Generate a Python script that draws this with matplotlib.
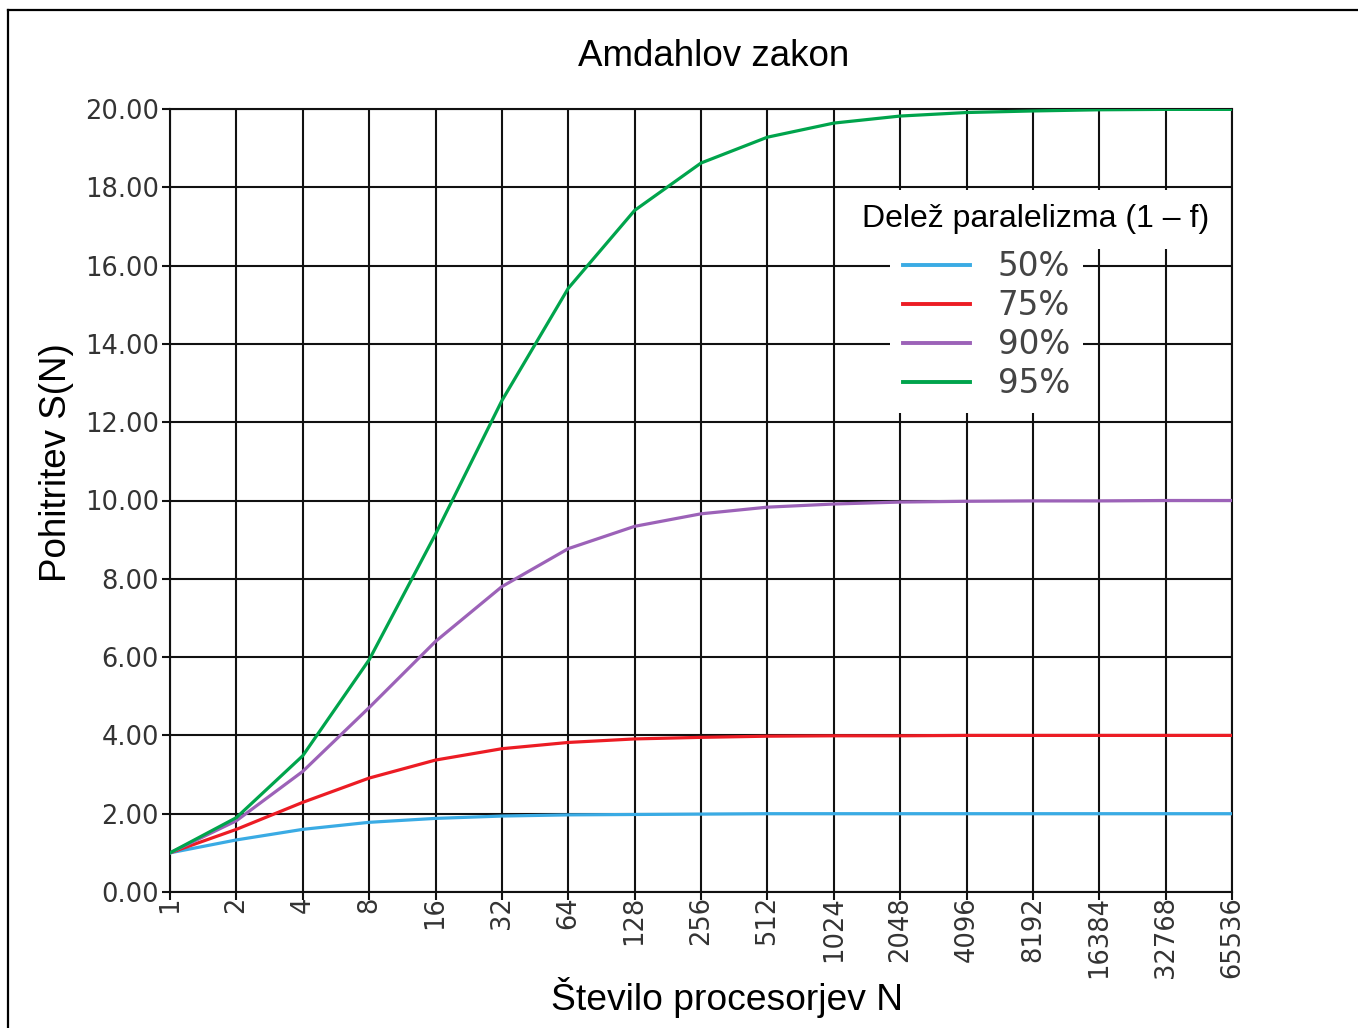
import matplotlib.pyplot as plt
from matplotlib.lines import Line2D

plt.rcParams['font.family'] = 'DejaVu Sans'

# ===== data
n_labels = ['1', '2', '4', '8', '16', '32', '64', '128', '256', '512', '1024',
            '2048', '4096', '8192', '16384', '32768', '65536']

s_50 = [1.00, 1.33, 1.60, 1.78, 1.88, 1.94, 1.97, 1.98, 1.99, 2.00, 2.00,
        2.00, 2.00, 2.00, 2.00, 2.00, 2.00]
s_75 = [1.00, 1.60, 2.29, 2.91, 3.37, 3.66, 3.82, 3.91, 3.95, 3.98, 3.99,
        3.99, 4.00, 4.00, 4.00, 4.00, 4.00]
s_90 = [1.00, 1.82, 3.08, 4.71, 6.40, 7.80, 8.77, 9.34, 9.66, 9.83, 9.91,
        9.96, 9.98, 9.99, 9.99, 10.00, 10.00]
s_95 = [1.00, 1.90, 3.48, 5.93, 9.14, 12.55, 15.42, 17.41, 18.62, 19.28,
        19.64, 19.82, 19.91, 19.95, 19.98, 19.99, 19.99]

series_labels = ['50%', '75%', '90%', '95%']
series_colors = ['#3aabe4', '#ec1c24', '#9c62b8', '#00a44c']

y_ticks = [0, 2, 4, 6, 8, 10, 12, 14, 16, 18, 20]

# ===== figure
fig = plt.figure(figsize=(13.58, 10.28), dpi=100)
ax = fig.add_axes([170 / 1358, 1 - 892 / 1028, 1062 / 1358, 783 / 1028])

x = list(range(len(n_labels)))
for vals, lab, col in zip([s_50, s_75, s_90, s_95], series_labels, series_colors):
    ax.plot(x, vals, color=col, linewidth=2.3, label=lab, zorder=3,
            solid_joinstyle='round')

ax.set_xlim(0, len(n_labels) - 1)
ax.set_ylim(0, 20)
ax.set_xticks(x)
ax.set_xticklabels(n_labels, rotation=90, va='top', ha='center',
                   family='DejaVu Sans')
ax.set_yticks(y_ticks)
ax.set_yticklabels(['%.2f' % v for v in y_ticks], family='DejaVu Sans')

ax.grid(True, color='#111111', linewidth=1.5, zorder=1)
ax.set_axisbelow(True)
for side in ['left', 'bottom', 'top', 'right']:
    ax.spines[side].set_color('#111111')
    ax.spines[side].set_linewidth(1.5)

ax.tick_params(axis='both', which='major', length=6, width=1.5,
               color='#111111', labelcolor='#333333', labelsize=18.5)
ax.tick_params(axis='x', pad=-3)
ax.tick_params(axis='y', pad=2)

# titles placed in figure coordinates
fig.text(714 / 1358, 1 - 56 / 1028, 'Amdahlov zakon', family='Liberation Sans',
         size=26.5, ha='center', va='center')
fig.text(727 / 1358, 1 - 998 / 1028, 'Število procesorjev N',
         family='Liberation Sans', size=26.8, ha='center', va='center')
fig.text(57 / 1358, 1 - 463 / 1028, 'Pohitritev S(N)', family='Liberation Sans',
         size=26.5, ha='center', va='center', rotation=90)

# legend: entries in a white box, title as separate text with white box
leg = ax.legend(loc='upper left', bbox_to_anchor=(0.678, 0.836),
                frameon=True, fancybox=False, edgecolor='none',
                facecolor='white', framealpha=1.0,
                prop={'family': 'DejaVu Sans', 'size': 23.5},
                handlelength=2.05, handletextpad=0.85, labelspacing=0.18,
                borderpad=0.4, borderaxespad=0)
for t in leg.get_texts():
    t.set_color('#444444')
for h in leg.get_lines():
    h.set_linewidth(2.8)
leg.set_zorder(5)

ax.text(0.815, 0.859, 'Delež paralelizma (1 – f)', transform=ax.transAxes,
        family='Liberation Sans', size=23, ha='center', va='center',
        zorder=6, bbox=dict(boxstyle='square,pad=0.45', facecolor='white',
                            edgecolor='none'))

# outer frame (left and top edges only visible)
fig.add_artist(Line2D([8 / 1358, 8 / 1358], [0, 1 - 10 / 1028],
                      transform=fig.transFigure, color='black', linewidth=1.6))
fig.add_artist(Line2D([8 / 1358, 1], [1 - 10 / 1028, 1 - 10 / 1028],
                      transform=fig.transFigure, color='black', linewidth=1.6))

fig.savefig('out.png', dpi=100)
